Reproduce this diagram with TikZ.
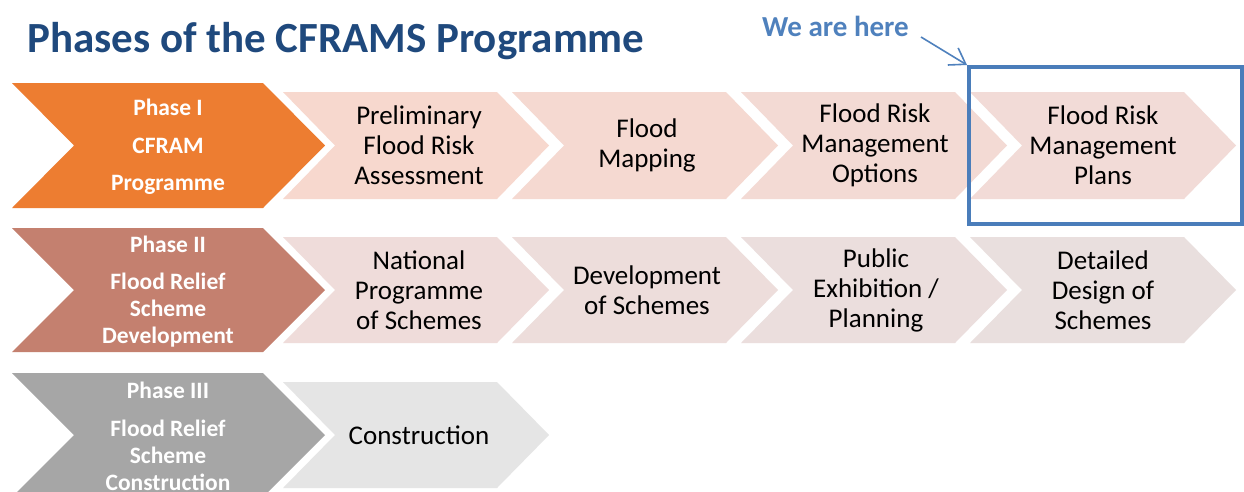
\documentclass[tikz,border=0pt]{standalone}
\usepackage{fontspec}
\setmainfont{Carlito}
\usetikzlibrary{arrows.meta}
\definecolor{phaseA}{HTML}{ED7D31}
\definecolor{phaseB}{HTML}{C4806F}
\definecolor{phaseC}{HTML}{A6A6A6}
\definecolor{pA1}{HTML}{F7D8CE}
\definecolor{pA2}{HTML}{F5D9D1}
\definecolor{pA3}{HTML}{F3DAD4}
\definecolor{pA4}{HTML}{F2DBD7}
\definecolor{pB1}{HTML}{EFDCDA}
\definecolor{pB2}{HTML}{EDDDDB}
\definecolor{pB3}{HTML}{EBDEDD}
\definecolor{pB4}{HTML}{E9DFDE}
\definecolor{pC1}{HTML}{E5E5E5}
\definecolor{titleblue}{HTML}{1F497D}
\definecolor{hereblue}{HTML}{4F81BD}
\definecolor{boxblue}{HTML}{4A7DBA}
% colour, left, top, bottom, body width, point depth
\newcommand\chev[6]{%
  \fill[#1] (#2,#3) -- ({#2+#5},#3) -- ({#2+#5+#6},{(#3+#4)/2}) -- ({#2+#5},#4)
    -- (#2,#4) -- ({#2+#6},{(#3+#4)/2}) -- cycle;}
\tikzset{
  lbl/.style={align=center, font=\fontsize{27}{30}\selectfont, text=black, inner sep=0pt},
  wlbl/.style={align=center, font=\bfseries\fontsize{23.5}{27}\selectfont, text=white, inner sep=0pt},
}
\begin{document}
\begin{tikzpicture}[x=1pt,y=-1pt]
\clip (0,0) rectangle (1244,491);
\fill[white] (0,0) rectangle (1244,491);
% title
\node[anchor=base west, inner sep=0pt, text=titleblue, font=\bfseries\fontsize{43}{50}\selectfont] (title) at (27,52) {Phases of the CFRAMS Programme};
% row 1
\chev{phaseA}{12}{83}{208}{251}{62}
\chev{pA1}{283}{92}{199}{214}{52}
\chev{pA2}{512}{92}{199}{214}{52}
\chev{pA3}{741}{92}{199}{214}{52}
\chev{pA4}{970}{92}{199}{214}{52}
% row 2
\chev{phaseB}{12}{228}{352}{251}{62}
\chev{pB1}{283}{237}{343}{214}{52}
\chev{pB2}{512}{237}{343}{214}{52}
\chev{pB3}{741}{237}{343}{214}{52}
\chev{pB4}{970}{237}{343}{214}{52}
% row 3
\chev{phaseC}{12}{373}{497}{251}{62}
\chev{pC1}{283}{382}{488}{214}{52}
% phase labels
\node[wlbl] (ph1) at (168,147) {Phase I\\[10.5pt]CFRAM\\[10.5pt]Programme};
\node[wlbl] (ph2) at (168,292) {Phase II\\[10pt]Flood Relief\\Scheme\\Development};
\node[wlbl] (ph3) at (168,436) {Phase III\\[11pt]Flood Relief\\Scheme\\Construction};
% step labels
\node[lbl] (s11) at (419,145) {Preliminary\\Flood Risk\\Assessment};
\node[lbl] (s12) at (647,145) {Flood\\Mapping};
\node[lbl] (s13) at (875,145) {Flood Risk\\Management\\Options};
\node[lbl] (s14) at (1103,145) {Flood Risk\\Management\\Plans};
\node[lbl] (s21) at (419,290) {National\\Programme\\of Schemes};
\node[lbl] (s22) at (647,290) {Development\\of Schemes};
\node[lbl] (s23) at (876,290) {Public\\Exhibition /\\Planning};
\node[lbl] (s24) at (1103,290) {Detailed\\Design of\\Schemes};
\node[lbl] (s31) at (419,435) {Construction};
% we are here
\node[anchor=base west, inner sep=0pt, text=hereblue, font=\bfseries\fontsize{29}{32}\selectfont] (here) at (762,36) {We are here};
\node[draw=boxblue, line width=4pt, anchor=north west, minimum width=273pt, minimum height=157pt, inner sep=0pt] (box) at (967,65) {};
\draw[hereblue, line width=1.6pt, -{Straight Barb[length=15pt,width=20pt]}] ([xshift=12pt,yshift=-1pt]here.base east) -- (box.north west);
\end{tikzpicture}
\end{document}
